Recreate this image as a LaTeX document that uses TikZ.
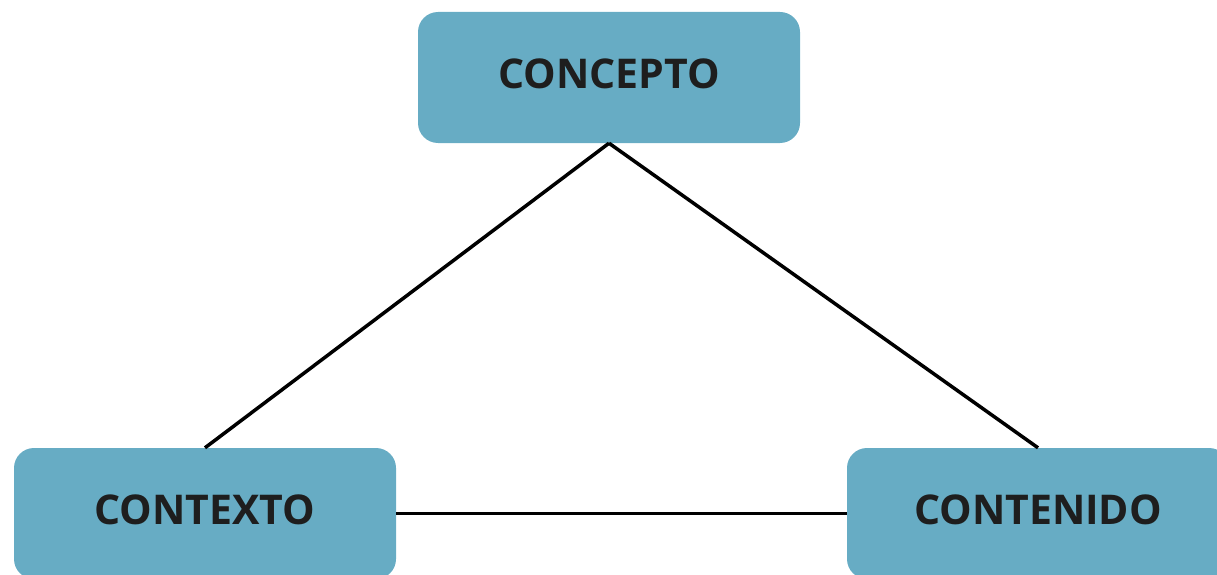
\documentclass[tikz,border=0pt]{standalone}
\usepackage{fontspec}
\setmainfont{Open Sans}
\definecolor{boxblue}{HTML}{67ACC4}
\definecolor{txt}{HTML}{1E1E1E}
\begin{document}
\begin{tikzpicture}[x=1pt,y=-1pt,
  conceptbox/.style={fill=boxblue, draw=none, rounded corners=20pt,
    minimum width=382pt, minimum height=131pt, inner sep=0pt,
    text height=30pt, text depth=8pt,
    font=\fontsize{41}{48}\selectfont\bfseries, text=txt},
  link/.style={line width=3.5pt, draw=black}]
\useasboundingbox (0,0) rectangle (1217,575);
\clip (0,0) rectangle (1217,575);
\node[conceptbox] (concepto) at (609,77.5) {CONCEPTO};
\node[conceptbox] (contexto) at (205,513.5) {CONTEXTO};
\node[conceptbox] (contenido) at (1038,513.5) {CONTENIDO};
\draw[link] (concepto.south) -- (contexto.north);
\draw[link] (concepto.south) -- (contenido.north);
\draw[link] (contexto.east) -- (contenido.west);
\end{tikzpicture}
\end{document}
